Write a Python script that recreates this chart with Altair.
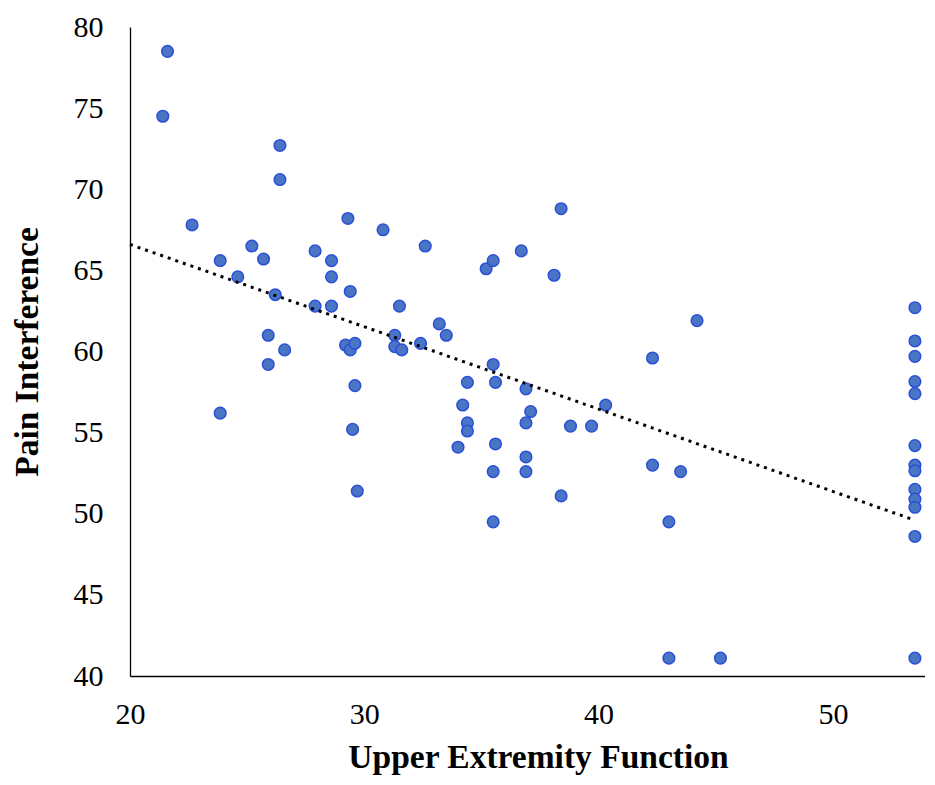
import altair as alt
import pandas as pd

# Upper Extremity Function (x) and Pain Interference (y)
uef = [21.6, 21.4, 22.65, 23.85, 23.85, 24.6, 25.2, 25.7, 26.2, 25.9, 25.9, 26.4, 26.4, 26.6,
       27.9, 27.9, 28.6, 28.6, 28.6, 29.3, 29.4, 29.2, 29.4, 29.6, 29.6, 29.5, 29.7,
       30.8, 31.3, 31.3, 31.5, 31.6, 32.6, 32.4, 33.2, 33.5, 34.0, 34.2, 34.4, 34.4, 34.4,
       35.2, 35.5, 35.5, 35.6, 35.6, 35.5, 35.5, 36.7, 36.9, 37.1, 36.9, 36.9, 36.9,
       38.4, 38.1, 38.4, 38.8, 39.7, 40.3, 42.3, 42.3, 44.2, 43.0, 43.5, 43.0, 45.2,
       53.5, 53.5, 53.5, 53.5, 53.5, 53.5, 53.5, 53.5, 53.5, 53.5, 53.5, 53.5, 53.5]
pain = [78.5, 74.5, 67.8, 65.6, 56.2, 64.6, 66.5, 65.7, 63.5, 61.0, 59.2, 72.7, 70.6, 60.1,
        66.2, 62.8, 65.6, 64.6, 62.8, 68.2, 63.7, 60.4, 60.1, 60.5, 57.9, 55.2, 51.4,
        67.5, 61.0, 60.3, 62.8, 60.1, 66.5, 60.5, 61.7, 61.0, 54.1, 56.7, 55.6, 55.1, 58.1,
        65.1, 65.6, 59.2, 58.1, 54.3, 52.6, 49.5, 66.2, 57.7, 56.3, 55.6, 53.5, 52.6,
        68.8, 64.7, 51.1, 55.4, 55.4, 56.7, 59.6, 53.0, 61.9, 49.5, 52.6, 41.1, 41.1,
        62.7, 60.65, 59.7, 58.15, 57.4, 54.2, 53.0, 52.65, 51.5, 50.9, 50.4, 48.6, 41.1]

trend_x = [20.0, 53.5]
trend_y = [66.6, 49.6]

x_ticks = [20, 30, 40, 50]
y_ticks = [40, 45, 50, 55, 60, 65, 70, 75, 80]

pts = pd.DataFrame({"x": uef, "y": pain})
trend = pd.DataFrame({"x": trend_x, "y": trend_y})

FONT = "Liberation Serif"

xscale = alt.Scale(domain=[20, 53.93], nice=False, zero=False)
yscale = alt.Scale(domain=[40, 80], nice=False, zero=False)

xaxis = alt.Axis(title="Upper Extremity Function", values=x_ticks, grid=False, ticks=False,
                 labelFlush=False, labelOverlap=False,
                 domainColor="black", domainWidth=1.3, labelFont=FONT, labelFontSize=30,
                 labelColor="black", labelPadding=23, titleFont=FONT, titleFontSize=33.5,
                 titleFontWeight="bold", titleColor="black", titleY=65, titleX=408)
yaxis = alt.Axis(title="Pain Interference", values=y_ticks, grid=False, ticks=False,
                 labelFlush=False, labelOverlap=False,
                 domainColor="black", domainWidth=1.3, labelFont=FONT, labelFontSize=30,
                 labelColor="black", labelPadding=27, titleFont=FONT, titleFontSize=33.5,
                 titleFontWeight="bold", titleColor="black", titleX=-93,
                 titleBaseline="alphabetic")

line = alt.Chart(trend).mark_line(color="black", strokeWidth=3, strokeDash=[3, 5]).encode(
    x=alt.X("x:Q", scale=xscale, axis=xaxis),
    y=alt.Y("y:Q", scale=yscale, axis=yaxis),
)

points = alt.Chart(pts).mark_point(filled=True, shape="circle", size=135, fill="#4a74c4",
                                   fillOpacity=1, stroke="#2b50d8", strokeWidth=1.5,
                                   opacity=1, clip=False).encode(
    x=alt.X("x:Q", scale=xscale, axis=xaxis),
    y=alt.Y("y:Q", scale=yscale, axis=yaxis),
)

chart = alt.layer(points, line).properties(
    width=795, height=649,
    autosize=alt.AutoSizeParams(type="none"),
    padding={"left": 122, "top": 19, "right": 0, "bottom": 101},
    background="white",
).configure_view(stroke=None)

chart.save("out.html", embed_options={"renderer": "svg", "actions": False})
